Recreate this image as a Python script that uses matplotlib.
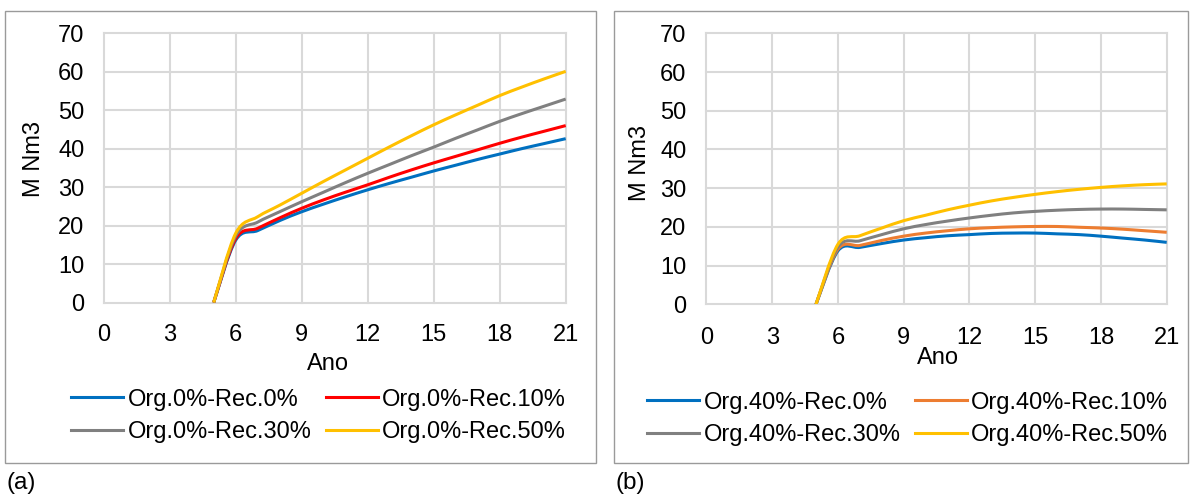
import matplotlib
matplotlib.use("Agg")
import matplotlib.pyplot as plt
from matplotlib.path import Path
from matplotlib.patches import PathPatch, Rectangle
from matplotlib.lines import Line2D

plt.rcParams['font.family'] = ['Liberation Sans', 'DejaVu Sans']

# data (M Nm3 per year)
years = list(range(5, 22))

labels_a = ["Org.0%-Rec.0%", "Org.0%-Rec.10%", "Org.0%-Rec.30%", "Org.0%-Rec.50%"]
a_rec0 = [0, 16.2, 18.7, 21.3, 23.6, 25.6, 27.5, 29.3, 31.0, 32.6, 34.2, 35.7, 37.2, 38.6, 40.0, 41.3, 42.6]
a_rec10 = [0, 16.6, 19.3, 22.0, 24.5, 26.7, 28.7, 30.6, 32.6, 34.5, 36.3, 38.0, 39.7, 41.4, 43.0, 44.5, 46.0]
a_rec30 = [0, 17.3, 20.9, 23.6, 26.2, 28.7, 31.2, 33.6, 35.9, 38.2, 40.4, 42.7, 44.9, 47.1, 49.1, 51.0, 52.9]
a_rec50 = [0, 18.0, 22.3, 25.3, 28.4, 31.5, 34.5, 37.5, 40.5, 43.4, 46.2, 48.8, 51.3, 53.8, 56.0, 58.1, 60.1]

labels_b = ["Org.40%-Rec.0%", "Org.40%-Rec.10%", "Org.40%-Rec.30%", "Org.40%-Rec.50%"]
b_rec0 = [0, 13.8, 14.7, 15.7, 16.6, 17.2, 17.7, 18.0, 18.3, 18.4, 18.4, 18.2, 18.0, 17.6, 17.1, 16.6, 16.0]
b_rec10 = [0, 14.2, 15.2, 16.5, 17.6, 18.4, 19.0, 19.5, 19.8, 20.0, 20.1, 20.1, 19.9, 19.7, 19.4, 19.0, 18.6]
b_rec30 = [0, 14.8, 16.4, 18.0, 19.5, 20.6, 21.5, 22.3, 23.0, 23.6, 24.0, 24.3, 24.5, 24.6, 24.6, 24.5, 24.4]
b_rec50 = [0, 15.5, 17.7, 19.7, 21.6, 23.0, 24.4, 25.6, 26.7, 27.6, 28.4, 29.1, 29.7, 30.2, 30.6, 30.9, 31.1]

colors_a = ["#0070C0", "#FF0000", "#808080", "#FFC000"]
colors_b = ["#0070C0", "#ED7D31", "#808080", "#FFC000"]

W, H = 1190, 496


def smooth_path(xs, ys):
    """
        Excel style smoothed line as cubic bezier path
    """
    pts = list(zip(xs, ys))
    n = len(pts)
    verts = [pts[0]]
    codes = [Path.MOVETO]
    for i in range(n - 1):
        p0 = pts[max(i - 1, 0)]
        p1 = pts[i]
        p2 = pts[i + 1]
        p3 = pts[min(i + 2, n - 1)]
        c1 = (p1[0] + (p2[0] - p0[0]) / 6, p1[1] + (p2[1] - p0[1]) / 6)
        c2 = (p2[0] - (p3[0] - p1[0]) / 6, p2[1] - (p3[1] - p1[1]) / 6)
        verts += [c1, c2, p2]
        codes += [Path.CURVE4] * 3
    return Path(verts, codes)


def px_rect(x0, y0, x1, y1):
    return [x0 / W, 1 - y1 / H, (x1 - x0) / W, (y1 - y0) / H]


def draw_panel(fig, rect, series, labels, colors, xpad, ypad, xlab, ylab):
    ax = fig.add_axes(px_rect(*rect))
    for vals, c in zip(series, colors):
        ax.add_patch(PathPatch(smooth_path(years, vals), fill=False,
                               edgecolor=c, lw=2.2, capstyle='butt'))
    ax.set_xlim(0, 21)
    ax.set_ylim(0, 70)
    ax.set_xticks(range(0, 22, 3))
    ax.set_yticks(range(0, 71, 10))
    ax.tick_params(axis='x', length=0, labelsize=17, pad=xpad)
    ax.tick_params(axis='y', length=0, labelsize=17, pad=ypad)
    for s in ax.spines.values():
        s.set_visible(False)
    ax.grid(True, color='#d9d9d9', lw=1.5)
    ax.set_axisbelow(True)
    for gl in ax.get_xgridlines() + ax.get_ygridlines():
        gl.set_clip_on(False)
    ax.set_xlabel("Ano", fontsize=17)
    ax.xaxis.label.set_va('baseline')
    ax.xaxis.set_label_coords(*xlab)
    ax.set_ylabel("M Nm3", fontsize=17)
    ax.yaxis.label.set_va('center')
    ax.yaxis.set_label_coords(*ylab)
    handles = [Line2D([], [], color=c, lw=2.2) for c in colors]
    order = [0, 2, 1, 3]
    return ax, [handles[i] for i in order], [labels[i] for i in order]


fig = plt.figure(figsize=(W / 100, H / 100), dpi=100)

ax_a, h_a, l_a = draw_panel(fig, (103.7, 33.3, 565.7, 302.5),
                            [a_rec0, a_rec10, a_rec30, a_rec50],
                            labels_a, colors_a, 15.5, 14.0,
                            (0.485, -0.251), (-0.151, 0.533))
ax_b, h_b, l_b = draw_panel(fig, (706.4, 33.3, 1166.7, 304.3),
                            [b_rec0, b_rec10, b_rec30, b_rec50],
                            labels_b, colors_b, 16.0, 14.5,
                            (0.504, -0.220), (-0.144, 0.523))

leg_kw = dict(ncol=2, loc='center', frameon=False, fontsize=17,
              handlelength=2.2, handletextpad=0.2, columnspacing=0.6,
              labelspacing=0.45, borderpad=0, borderaxespad=0)
fig.legend(h_a, l_a, bbox_to_anchor=(318.5 / W, 1 - 416 / H), **leg_kw)
fig.legend(h_b, l_b, bbox_to_anchor=(907.5 / W, 1 - 419 / H), **leg_kw)

# panel frames
for x0, x1 in [(5, 596), (614, 1188)]:
    fig.add_artist(Rectangle((x0 / W, 1 - 463 / H), (x1 - x0) / W, 452 / H,
                             transform=fig.transFigure, fill=False,
                             ec='#9a9a9a', lw=1.0))

fig.text(6 / W, 1 - 483 / H, "(a)", fontsize=17.5, va='center', ha='left')
fig.text(615 / W, 1 - 483 / H, "(b)", fontsize=17.5, va='center', ha='left')

fig.savefig("out.png", dpi=100)
